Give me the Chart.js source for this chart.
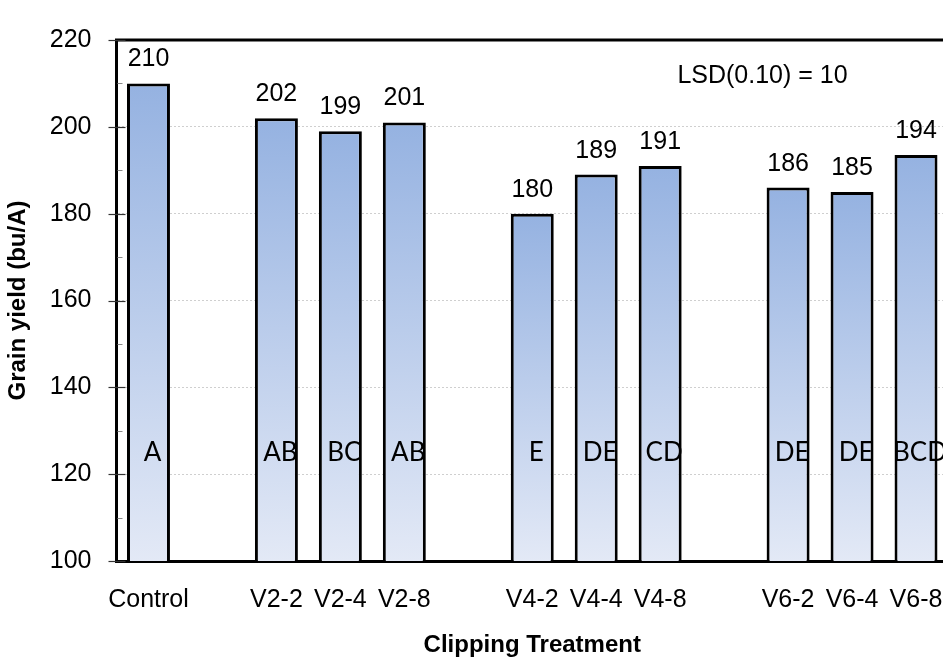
<!DOCTYPE html>
<html>
<head>
<meta charset="utf-8">
<title>Grain yield by clipping treatment</title>
<script src="https://cdn.jsdelivr.net/npm/chart.js@4.4.1/dist/chart.umd.min.js"></script>
<style>
    html, body { margin: 0; padding: 0; background: #fff; overflow: hidden; }
    #chart-box { width: 948px; height: 661px; }
</style>
</head>
<body>
<div id="chart-box"><canvas id="yieldChart"></canvas></div>
<script>
// categories (blank entries are the gaps between the groups)
const treatments = ["Control", "", "V2-2", "V2-4", "V2-8", "", "V4-2", "V4-4", "V4-8", "", "V6-2", "V6-4", "V6-8"];
// grain yield, bu/A
const grainYield = [210, null, 202, 199, 201, null, 180, 189, 191, null, 186, 185, 193.5];
// mean separation letters
const sigLetters = ["A", "", "AB", "BC", "AB", "", "E", "DE", "CD", "", "DE", "DE", "BCD"];
// y axis
const yMin = 100;
const yMax = 220;
const yStep = 20;
const lsdNote = "LSD(0.10) = 10";

const FONT = '"Liberation Sans", Arial, sans-serif';

document.addEventListener("DOMContentLoaded", function () {

    /** ========== bar gradient (dark at top, pale at the axis) ========== */
    function barGradient(context) {
        const chart = context.chart;
        const yScale = chart.scales.y;
        if (!chart.chartArea || !yScale || context.raw == null) return "#b9cbea";
        const top = yScale.getPixelForValue(context.raw);
        const bottom = yScale.getPixelForValue(yMin);
        const g = chart.ctx.createLinearGradient(0, top, 0, bottom);
        g.addColorStop(0, "#95b2e1");
        g.addColorStop(1, "#e3e9f6");
        return g;
    }

    /** ========== labels, letters, ticks, frame ========== */
    const annotatePlugin = {
        id: "annotate",
        afterDatasetsDraw(chart) {
            const ctx = chart.ctx;
            const yScale = chart.scales.y;
            const xScale = chart.scales.x;
            const bars = chart.getDatasetMeta(0).data;

            ctx.save();
            ctx.fillStyle = "#000";
            ctx.textAlign = "center";

            // value above each bar
            ctx.font = "25px " + FONT;
            ctx.textBaseline = "alphabetic";
            bars.forEach((bar, i) => {
                if (grainYield[i] == null) return;
                ctx.fillText(String(Math.round(grainYield[i])), bar.x, bar.y - 17);
            });

            // letters inside the bars
            ctx.font = "26px Lato, " + FONT;
            ctx.textBaseline = "middle";
            const letterY = yScale.getPixelForValue(125);
            bars.forEach((bar, i) => {
                if (!sigLetters[i]) return;
                ctx.fillText(sigLetters[i], bar.x + 4, letterY);
            });

            // LSD note
            ctx.font = "25px " + FONT;
            ctx.fillText(lsdNote, xScale.getPixelForValue(9.6), yScale.getPixelForValue(211.7));
            ctx.restore();
        },
        afterDraw(chart) {
            const ctx = chart.ctx;
            const area = chart.chartArea;
            const yScale = chart.scales.y;

            ctx.save();
            // top frame line
            ctx.strokeStyle = "#000";
            ctx.lineWidth = 3;
            ctx.beginPath();
            ctx.moveTo(area.left - 1.5, area.top);
            ctx.lineTo(area.right + 2, area.top);
            ctx.stroke();

            // major ticks cross the axis, minor ticks sit inside
            for (let v = yMin; v <= yMax; v += yStep / 2) {
                const y = Math.round(yScale.getPixelForValue(v)) + 0.5;
                ctx.beginPath();
                if ((v - yMin) % yStep === 0) {
                    ctx.strokeStyle = "#333";
                    ctx.lineWidth = 1.2;
                    ctx.moveTo(area.left - 8, y);
                    ctx.lineTo(area.left + 9, y);
                } else {
                    ctx.strokeStyle = "#8a8a8a";
                    ctx.lineWidth = 1;
                    ctx.moveTo(area.left + 1, y);
                    ctx.lineTo(area.left + 6, y);
                }
                ctx.stroke();
            }
            ctx.restore();
        }
    };

    /** ========== chart ========== */
    new Chart(document.getElementById("yieldChart"), {
        type: "bar",
        data: {
            labels: treatments,
            datasets: [{
                data: grainYield,
                backgroundColor: barGradient,
                borderColor: "#000",
                borderWidth: 3,
                borderSkipped: false,
                barPercentage: 0.672,
                categoryPercentage: 1.0
            }]
        },
        options: {
            responsive: true,
            maintainAspectRatio: false,
            animation: false,
            layout: { padding: { top: 23, right: 0, bottom: 0, left: 0 } },
            plugins: {
                legend: { display: false },
                tooltip: { enabled: false }
            },
            scales: {
                x: {
                    offset: true,
                    grid: { display: false, drawTicks: false },
                    border: { display: true, color: "#000", width: 3 },
                    ticks: {
                        autoSkip: false,
                        maxRotation: 0,
                        padding: 24,
                        color: "#000",
                        font: { family: FONT, size: 25 }
                    },
                    title: {
                        display: true,
                        text: "Clipping Treatment",
                        color: "#000",
                        font: { family: FONT, size: 24, weight: "bold" },
                        padding: { top: 0, bottom: 1 }
                    },
                    afterFit(scale) {
                        scale.height = 100;
                        // plot runs off the right edge like the original
                        scale.paddingLeft = 0;
                        scale.paddingRight = 0;
                    }
                },
                y: {
                    min: yMin,
                    max: yMax,
                    grid: { color: "#cfcfcf", lineWidth: 1, drawTicks: false },
                    border: { display: true, color: "#000", width: 3, dash: [2, 2] },
                    ticks: {
                        stepSize: yStep,
                        padding: 25,
                        color: "#000",
                        font: { family: FONT, size: 25 }
                    },
                    title: {
                        display: true,
                        text: "Grain yield (bu/A)",
                        color: "#000",
                        font: { family: FONT, size: 24, weight: "bold" },
                        padding: { top: 4, bottom: 0 }
                    },
                    afterFit(scale) { scale.width = 116.5; }
                }
            }
        },
        plugins: [annotatePlugin]
    });
});
</script>
</body>
</html>
